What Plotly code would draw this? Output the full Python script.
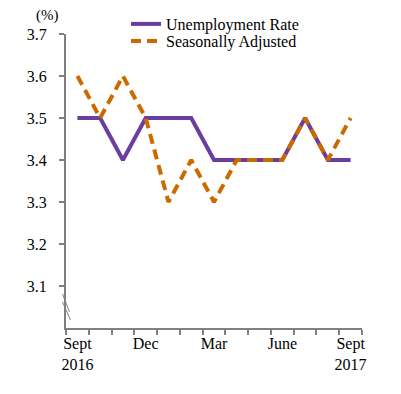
import plotly.graph_objects as go

months = ["Sept 2016", "Oct", "Nov", "Dec", "Jan", "Feb", "Mar",
          "Apr", "May", "June", "July", "Aug", "Sept 2017"]
tick_labels = ["Sept<br>2016", "", "", "Dec", "", "", "Mar",
               "", "", "June", "", "", "Sept<br>2017"]
unemployment = [3.5, 3.5, 3.4, 3.5, 3.5, 3.5, 3.4, 3.4, 3.4, 3.4, 3.5, 3.4, 3.4]
seasonally_adj = [3.6, 3.5, 3.6, 3.5, 3.3, 3.4, 3.3, 3.4, 3.4, 3.4, 3.5, 3.4, 3.5]
y_ticks = [3.1, 3.2, 3.3, 3.4, 3.5, 3.6, 3.7]

PURPLE = "#6A3D9E"
ORANGE = "#CC6A00"
GREY = "#808080"
FONT = "Times New Roman, Liberation Serif, DejaVu Serif, serif"

# page body has an 8px margin, so plot-area targets are offset by 8px
OFF = 8
L, R, T, B = 66 - OFF, 401 - (362 - OFF), 34 - OFF, 394 - (328 - OFF)
PW, PH = 296, 294


def px(x):
    return (x - 66) / PW


def py(y):
    return (328 - y) / PH


fig = go.Figure()
fig.add_trace(go.Scatter(x=months, y=unemployment, mode="lines",
                         name="Unemployment Rate",
                         line=dict(color=PURPLE, width=4), legend="legend"))
fig.add_trace(go.Scatter(x=months, y=seasonally_adj, mode="lines",
                         name="Seasonally Adjusted",
                         line=dict(color=ORANGE, width=4, dash="10px,6px"),
                         legend="legend2"))

legend_common = dict(font=dict(family=FONT, size=16, color="black"),
                     bgcolor="rgba(0,0,0,0)", xanchor="left", yanchor="middle",
                     itemwidth=30)
fig.update_layout(
    width=401, height=394,
    margin=dict(l=L, r=R, t=T, b=B, autoexpand=False),
    plot_bgcolor="white", paper_bgcolor="white",
    font=dict(family=FONT, size=16, color="black"),
    showlegend=True,
    legend=dict(x=px(126), y=py(24), **legend_common),
    legend2=dict(x=px(126), y=py(41), **legend_common),
    xaxis=dict(type="category", categoryorder="array", categoryarray=months,
               tickvals=months, ticktext=tick_labels, tickangle=0,
               range=[-0.5, 12.5], tickson="boundaries", automargin=False,
               ticks="outside", ticklen=5, tickwidth=2, tickcolor=GREY,
               showline=True, linecolor=GREY, linewidth=2,
               showgrid=False, zeroline=False,
               tickfont=dict(family=FONT, size=16, color="black")),
    yaxis=dict(range=[3.0, 3.7], tickvals=y_ticks, automargin=False,
               ticktext=[f"{v:.1f}" for v in y_ticks],
               ticks="outside", ticklen=5, tickwidth=2, tickcolor=GREY,
               showline=True, linecolor=GREY, linewidth=2,
               showgrid=False, zeroline=False, ticklabelstandoff=9,
               tickfont=dict(family=FONT, size=16, color="black")),
    annotations=[dict(text="(%)", xref="paper", yref="paper",
                      x=px(47.5), y=py(15),
                      showarrow=False, xanchor="center", yanchor="middle",
                      font=dict(family=FONT, size=15, color="black"))],
    shapes=[
        dict(type="line", xref="paper", yref="paper",
             x0=px(62.5), y0=py(294), x1=px(69.5), y1=py(312),
             line=dict(color=GREY, width=1)),
        dict(type="line", xref="paper", yref="paper",
             x0=px(62.5), y0=py(302), x1=px(70.5), y1=py(320),
             line=dict(color=GREY, width=1)),
    ],
)
fig.write_html("out.html")
